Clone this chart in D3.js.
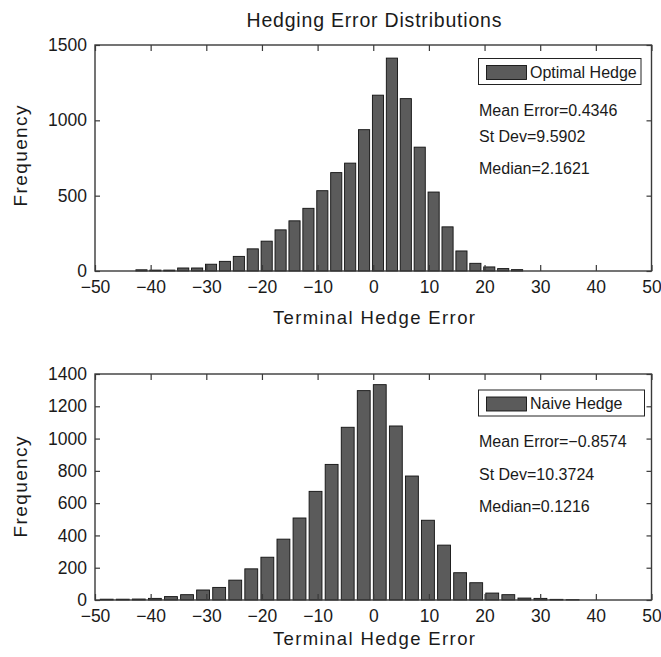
<!DOCTYPE html>
<html>
<head>
<meta charset="utf-8">
<script src="https://cdn.jsdelivr.net/npm/d3@7"></script>
<style>
  html, body { margin: 0; padding: 0; background: #fff; }
  svg { display: block; font-family: "Liberation Sans", Arial, Helvetica, sans-serif; }
</style>
</head>
<body>
<svg id="chart" width="661" height="657"></svg>
<script>
// ---------------- data ----------------
const chartTitle = "Hedging Error Distributions";
const xLabel = "Terminal Hedge Error";
const yLabel = "Frequency";
const xTicks = [-50, -40, -30, -20, -10, 0, 10, 20, 30, 40, 50];

// Optimal hedge histogram (bin centers, counts)
const optimalCenters = [-41.65, -39.15, -36.65, -34.15, -31.65, -29.15, -26.65, -24.15, -21.65, -19.15,
                        -16.65, -14.15, -11.65, -9.15, -6.65, -4.15, -1.65, 0.85, 3.35, 5.85,
                        8.35, 10.85, 13.35, 15.85, 18.35, 20.85, 23.35, 25.85];
const optimalCounts  = [8, 6, 6, 20, 20, 45, 64, 97, 147, 198,
                        273, 333, 416, 533, 653, 716, 938, 1167, 1413, 1144,
                        822, 524, 293, 133, 51, 27, 16, 9];
const optimalYTicks = [0, 500, 1000, 1500];
const optimalLegend = "Optimal Hedge";
const optimalStats = ["Mean Error=0.4346", "St Dev=9.5902", "Median=2.1621"];

// Naive hedge histogram (bin centers, counts)
const naiveCenters = [-47.90, -45.01, -42.13, -39.24, -36.35, -33.46, -30.58, -27.69, -24.80, -21.92,
                      -19.03, -16.14, -13.25, -10.37, -7.48, -4.59, -1.71, 1.17, 4.06, 6.95,
                      9.83, 12.72, 15.61, 18.50, 21.38, 24.27, 27.16, 30.04, 32.93, 35.82];
const naiveCounts  = [5, 5, 6, 10, 21, 33, 62, 78, 123, 193,
                      265, 377, 508, 673, 840, 1070, 1297, 1334, 1078, 768,
                      494, 340, 169, 107, 43, 33, 12, 10, 4, 2];
const naiveYTicks = [0, 200, 400, 600, 800, 1000, 1200, 1400];
const naiveLegend = "Naive Hedge";
const naiveStats = ["Mean Error=\u22120.8574", "St Dev=10.3724", "Median=0.1216"];

// ---------------- drawing ----------------
const svg = d3.select("#chart");
const fmt = d => (d < 0 ? "\u2212" + Math.abs(d) : String(d));
const axisColor = "#3a3a3a";
const barFill = "#5b5b5b";

svg.append("text")
  .attr("x", 374).attr("y", 26.5)
  .attr("text-anchor", "middle")
  .attr("font-size", 19.5)
  .attr("textLength", 255).attr("lengthAdjust", "spacing")
  .attr("fill", "#1a1a1a")
  .text(chartTitle);

function panel(cfg) {
  const left = 95, right = 651.5;
  const top = cfg.top, bottom = cfg.bottom;
  const x = d3.scaleLinear().domain([-50, 50]).range([left, right]);
  const y = d3.scaleLinear().domain([0, cfg.yMax]).range([bottom, top]);
  const g = svg.append("g");

  // bars
  const bw = 0.8 * (cfg.centers[1] - cfg.centers[0]);
  g.append("g").selectAll("rect")
    .data(cfg.centers.map((c, i) => ({ c, v: cfg.counts[i] })))
    .join("rect")
    .attr("x", d => x(d.c - bw / 2))
    .attr("width", d => x(d.c + bw / 2) - x(d.c - bw / 2))
    .attr("y", d => y(d.v))
    .attr("height", d => y(0) - y(d.v))
    .attr("fill", barFill)
    .attr("stroke", "#111")
    .attr("stroke-width", 0.9);

  // axes (inward ticks like MATLAB)
  const xb = g.append("g").attr("transform", `translate(0,${bottom})`)
    .call(d3.axisBottom(x).tickValues(xTicks).tickFormat(fmt).tickSizeInner(-6).tickSizeOuter(0).tickPadding(cfg.xPad));
  const xt = g.append("g").attr("transform", `translate(0,${top})`)
    .call(d3.axisTop(x).tickValues(xTicks).tickFormat("").tickSizeInner(-6).tickSizeOuter(0));
  const yl = g.append("g").attr("transform", `translate(${left},0)`)
    .call(d3.axisLeft(y).tickValues(cfg.yTicks).tickFormat(d3.format("d")).tickSizeInner(-5).tickSizeOuter(0).tickPadding(8));
  const yr = g.append("g").attr("transform", `translate(${right},0)`)
    .call(d3.axisRight(y).tickValues(cfg.yTicks).tickFormat("").tickSizeInner(-5).tickSizeOuter(0));
  [xb, xt, yl, yr].forEach(a => {
    a.select(".domain").remove();
    a.selectAll("line").attr("stroke", axisColor).attr("stroke-width", 1.2);
    a.selectAll("text").attr("font-size", 17.5).attr("fill", "#1a1a1a")
      .attr("font-family", "'Liberation Sans', Arial, sans-serif");
  });

  // box
  g.append("rect")
    .attr("x", left).attr("y", top)
    .attr("width", right - left).attr("height", bottom - top)
    .attr("fill", "none").attr("stroke", axisColor).attr("stroke-width", 1.4);

  // axis labels
  g.append("text")
    .attr("x", 374).attr("y", cfg.xLabelY)
    .attr("text-anchor", "middle").attr("font-size", 18.5)
    .attr("textLength", 202).attr("lengthAdjust", "spacing")
    .attr("fill", "#1a1a1a")
    .text(xLabel);
  g.append("text")
    .attr("transform", `translate(27,${cfg.yLabelY}) rotate(-90)`)
    .attr("text-anchor", "middle").attr("font-size", 19)
    .attr("textLength", 101).attr("lengthAdjust", "spacing")
    .attr("fill", "#1a1a1a")
    .text(yLabel);

  // legend
  const lg = g.append("g");
  lg.append("rect")
    .attr("x", 478.5).attr("y", cfg.legTop)
    .attr("width", cfg.legW).attr("height", 26)
    .attr("fill", "#fff").attr("stroke", "#222").attr("stroke-width", 1);
  lg.append("rect")
    .attr("x", 486.5).attr("y", cfg.legTop + 7)
    .attr("width", 40).attr("height", 14)
    .attr("fill", barFill).attr("stroke", "#111").attr("stroke-width", 0.9);
  lg.append("text")
    .attr("x", 530).attr("y", cfg.legTop + 19)
    .attr("font-size", 16).attr("fill", "#1a1a1a")
    .text(cfg.legend);

  // stats
  g.append("g").selectAll("text")
    .data(cfg.stats)
    .join("text")
    .attr("x", 479)
    .attr("y", (d, i) => cfg.statY[i])
    .attr("font-size", 16).attr("fill", "#1a1a1a")
    .text(d => d);
}

panel({
  top: 45, bottom: 271, yMax: 1500, yTicks: optimalYTicks,
  centers: optimalCenters, counts: optimalCounts,
  xPad: 10, xLabelY: 324, yLabelY: 156,
  legTop: 58.5, legW: 162.5, legend: optimalLegend,
  stats: optimalStats, statY: [116, 141.5, 174]
});

panel({
  top: 374, bottom: 600, yMax: 1400, yTicks: naiveYTicks,
  centers: naiveCenters, counts: naiveCounts,
  xPad: 10, xLabelY: 645, yLabelY: 487,
  legTop: 390, legW: 166, legend: naiveLegend,
  stats: naiveStats, statY: [446.5, 480, 511.5]
});
</script>
</body>
</html>
